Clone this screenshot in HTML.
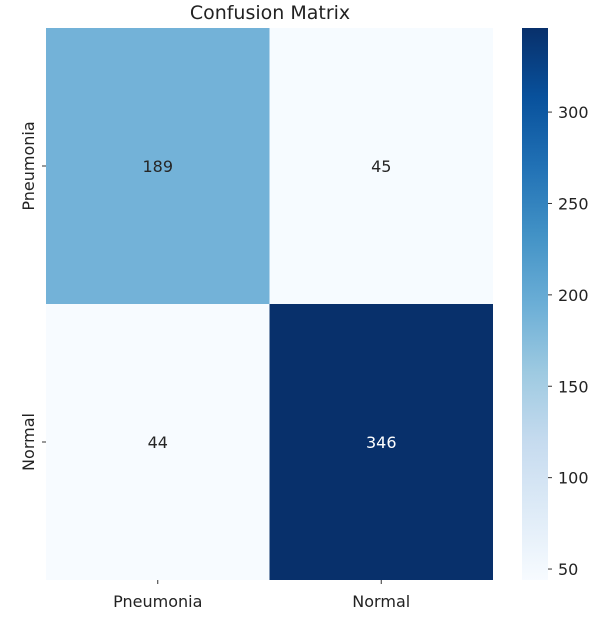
<!DOCTYPE html>
<html><head><meta charset="utf-8"><style>
body{margin:0;background:#fff;}
svg text{font-family:"DejaVu Sans","Liberation Sans",sans-serif;}
</style></head><body>
<svg width="612" height="619" xmlns="http://www.w3.org/2000/svg">
<defs><linearGradient id="cb" x1="0" y1="1" x2="0" y2="0">
<stop offset="0" stop-color="#f7fbff"/><stop offset="0.125" stop-color="#deebf7"/><stop offset="0.25" stop-color="#c6dbef"/><stop offset="0.375" stop-color="#9ecae1"/><stop offset="0.5" stop-color="#6baed6"/><stop offset="0.625" stop-color="#4292c6"/><stop offset="0.75" stop-color="#2171b5"/><stop offset="0.875" stop-color="#08519c"/><stop offset="1" stop-color="#08306b"/>
</linearGradient></defs>
<text x="270" y="19" font-size="19" text-anchor="middle" fill="#222">Confusion Matrix</text>
<g id="cells"></g>
<rect x="522" y="28" width="26" height="552" fill="url(#cb)"/>
<g id="cbticks"></g>
</svg>
<script>
const labels=["Pneumonia","Normal"];
const values=[[189,45],[44,346]];
const cbTicks=[50,100,150,200,250,300];
const L=46,R=493,T=28,B=580,vmin=44,vmax=346;
const stops=[[247,251,255],[222,235,247],[198,219,239],[158,202,225],[107,174,214],[66,146,198],[33,113,181],[8,81,156],[8,48,107]];
function color(v){let t=(v-vmin)/(vmax-vmin);t=Math.max(0,Math.min(1,t))*8;const i=Math.min(7,Math.floor(t)),f=t-i;const c=stops[i].map((a,k)=>Math.round(a+(stops[i+1][k]-a)*f));return `rgb(${c})`;}
const NS="http://www.w3.org/2000/svg";
const g=document.getElementById('cells');
const cw=(R-L)/labels.length,ch=(B-T)/labels.length;
function mk(tag,attrs,parent){const e=document.createElementNS(NS,tag);for(const k in attrs)e.setAttribute(k,attrs[k]);parent.appendChild(e);return e;}
values.forEach((row,r)=>row.forEach((v,c)=>{
 const rect=mk('rect',{x:L+c*cw,y:T+r*ch,width:cw,height:ch,fill:color(v)},g);
 
 
 const t=mk('text',{x:L+(c+.5)*cw,y:T+(r+.5)*ch+6,'font-size':16,'text-anchor':'middle',fill:(v-vmin)/(vmax-vmin)>0.6?'#fff':'#262626'},g);
 t.textContent=v;
 
 
}));
labels.forEach((lab,i)=>{
 const x=L+(i+.5)*cw,y=T+(i+.5)*ch;
 mk('line',{x1:x,x2:x,y1:B,y2:B+4,stroke:'#333'},g);
 const tx=mk('text',{x:x,y:B+27,'font-size':16,'text-anchor':'middle',fill:'#222'},g);
 tx.textContent=lab;
 
 
 mk('line',{x1:L-4,x2:L,y1:y,y2:y,stroke:'#333'},g);
 const ty=mk('text',{x:0,y:0,'font-size':16,'text-anchor':'middle',fill:'#222',transform:`translate(${L-12},${y}) rotate(-90)`},g);
 ty.textContent=lab;
 
 
});
const cg=document.getElementById('cbticks');
cbTicks.forEach(v=>{
 const y=B-(v-vmin)/(vmax-vmin)*(B-T);
 mk('line',{x1:548,x2:552,y1:y,y2:y,stroke:'#333'},cg);
 const t=mk('text',{x:558,y:y+6,'font-size':16,fill:'#222'},cg);
 t.textContent=v;
 
 
});
</script>
</body></html>
